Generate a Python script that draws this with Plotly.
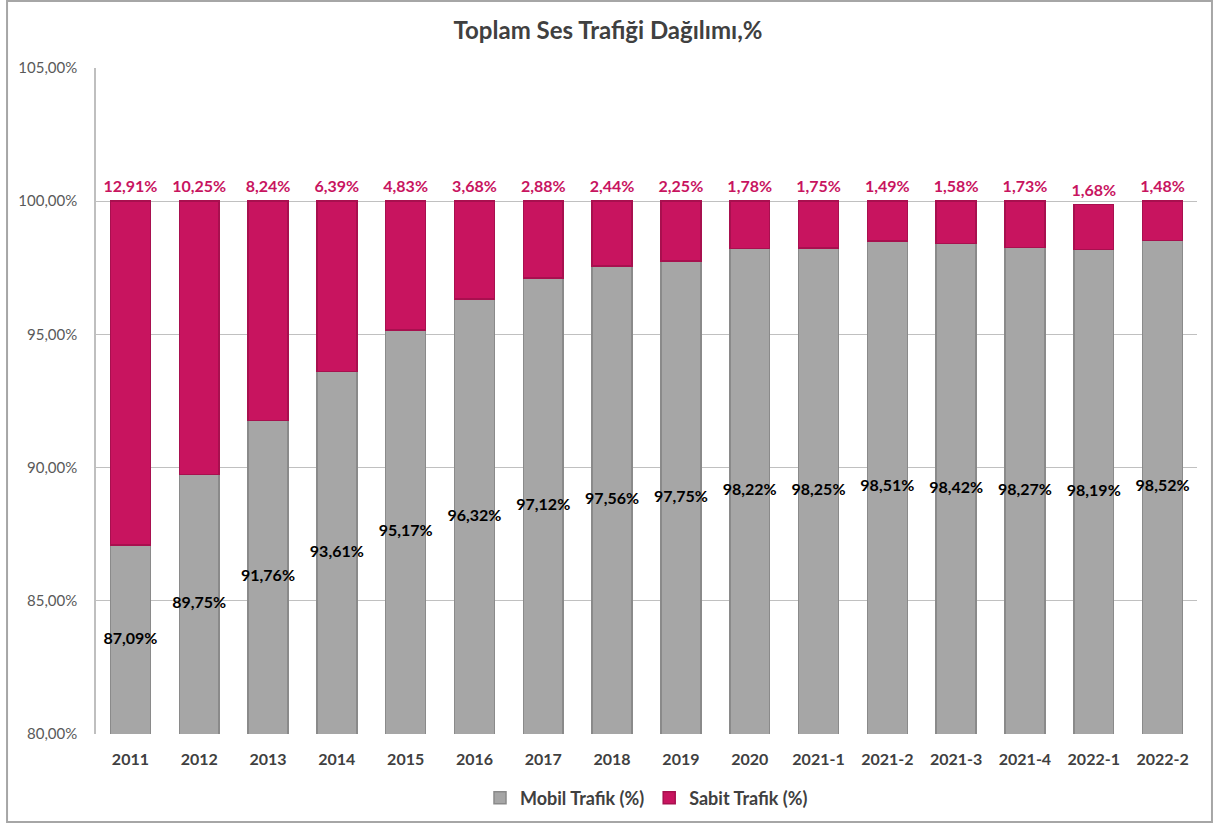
import plotly.graph_objects as go

categories = ["2011", "2012", "2013", "2014", "2015", "2016", "2017", "2018", "2019", "2020",
              "2021-1", "2021-2", "2021-3", "2021-4", "2022-1", "2022-2"]
mobil = [87.09, 89.75, 91.76, 93.61, 95.17, 96.32, 97.12, 97.56, 97.75, 98.22,
         98.25, 98.51, 98.42, 98.27, 98.19, 98.52]
sabit = [12.91, 10.25, 8.24, 6.39, 4.83, 3.68, 2.88, 2.44, 2.25, 1.78,
         1.75, 1.49, 1.58, 1.73, 1.68, 1.48]
y_min, y_max = 80, 105
tick_vals = [80, 85, 90, 95, 100, 105]
tick_text = ["80,00%", "85,00%", "90,00%", "95,00%", "100,00%", "105,00%"]

def fmt(v):
    return f"{v:.2f}".replace(".", ",") + "%"

FONT = "Lato, Open Sans, sans-serif"
GRAY = "#A6A6A6"
PINK = "#C8145F"

fig = go.Figure()
fig.add_trace(go.Bar(x=categories, y=mobil, name="Mobil Trafik (%)",
                     marker=dict(color=GRAY, line=dict(color="#8A8A8A", width=1.5)),
                     hoverinfo="y"))
fig.add_trace(go.Bar(x=categories, y=sabit, name="Sabit Trafik (%)",
                     marker=dict(color=PINK, line=dict(color="#A8104F", width=1.5)),
                     hoverinfo="y"))

# Mobil labels centered in the visible part of the gray bar
fig.add_trace(go.Scatter(x=categories, y=[(y_min + m) / 2 for m in mobil], mode="text",
                         text=[fmt(m) for m in mobil],
                         textfont=dict(family=FONT, size=16, color="#000000", weight="bold"),
                         showlegend=False, hoverinfo="skip"))
# Sabit labels above the stack
fig.add_trace(go.Scatter(x=categories, y=[m + s for m, s in zip(mobil, sabit)],
                         mode="markers+text",
                         marker=dict(size=6, opacity=0),
                         text=[fmt(s) for s in sabit], textposition="top center",
                         textfont=dict(family=FONT, size=16, color=PINK, weight="bold"),
                         showlegend=False, hoverinfo="skip"))

fig.update_layout(
    barmode="stack",
    bargap=0.42,
    width=1216, height=825,
    margin=dict(l=96, r=19, t=68, b=91, autoexpand=False),
    paper_bgcolor="white", plot_bgcolor="white",
    font=dict(family=FONT, color="#404040"),
    title=dict(text="<b>Toplam Ses Trafiği Dağılımı,%</b>", x=0.5, xanchor="center",
               y=0.963, yanchor="middle",
               font=dict(family=FONT, size=24, color="#404040")),
    legend=dict(orientation="h", x=0.5, xanchor="center", y=-0.096, yanchor="middle",
                font=dict(family=FONT, size=18, color="#404040", weight="bold"),
                traceorder="normal", itemwidth=30),
    xaxis=dict(range=[-0.5, len(categories) - 0.5], autorange=False,
               showgrid=False, showline=False, ticks="", automargin=False,
               ticklabelstandoff=14,
               tickfont=dict(family=FONT, size=16, color="#404040", weight="bold")),
    yaxis=dict(range=[y_min, y_max], tickvals=tick_vals, ticktext=tick_text,
               showgrid=True, gridcolor="#C0C0C0", gridwidth=1,
               showline=True, linecolor="#BFBFBF", linewidth=1.5, automargin=False,
               ticks="", ticklabelstandoff=14, zeroline=False,
               tickfont=dict(family=FONT, size=15, color="#595959")),
    shapes=[dict(type="rect", xref="paper", yref="paper",
                 x0=-0.0808, x1=1.0136, y0=-0.1321, y1=1.1006,
                 line=dict(color="#A6A6A6", width=2), layer="below")],
)

fig.write_html("out.html", config={"displayModeBar": False},
               post_script="document.body.style.margin='0px';")
